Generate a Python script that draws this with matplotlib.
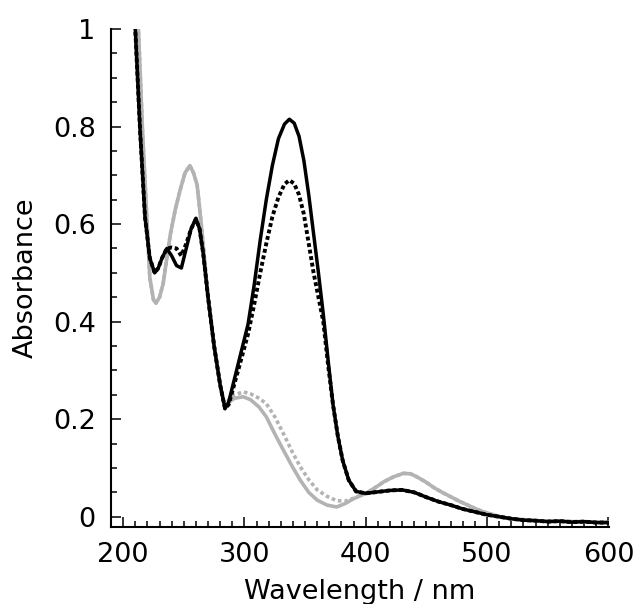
import matplotlib
matplotlib.use("Agg")
import matplotlib.pyplot as plt
from matplotlib.ticker import MultipleLocator, FuncFormatter

# ---- data ----
wl_black = [205, 210, 214, 218, 222, 226, 229, 232, 236, 240, 244, 248, 252, 256, 260, 263, 266,
            270, 275, 280, 284, 287, 292, 297, 303, 308, 313, 318, 323, 328, 333, 337, 341, 345,
            349, 353, 357, 361, 365, 369, 373, 377, 381, 386, 392, 400, 410, 420, 430, 440, 450,
            460, 470, 480, 490, 500, 510, 520, 530, 540, 550, 560, 570, 580, 590, 600]
abs_black_solid = [1.15, 1.0, 0.79, 0.615, 0.53, 0.50, 0.51, 0.53, 0.55, 0.535, 0.515, 0.51, 0.55,
                   0.59, 0.612, 0.59, 0.54, 0.45, 0.35, 0.27, 0.222, 0.235, 0.285, 0.335, 0.395,
                   0.475, 0.567, 0.65, 0.72, 0.775, 0.805, 0.815, 0.807, 0.78, 0.73, 0.66, 0.58,
                   0.50, 0.415, 0.32, 0.23, 0.165, 0.115, 0.075, 0.052, 0.048, 0.051, 0.054, 0.055,
                   0.05, 0.04, 0.031, 0.024, 0.016, 0.01, 0.004, 0.0, -0.004, -0.007, -0.008,
                   -0.01, -0.009, -0.011, -0.01, -0.012, -0.012]
abs_black_dot = [1.15, 1.0, 0.79, 0.615, 0.53, 0.50, 0.51, 0.53, 0.55, 0.552, 0.55, 0.535, 0.56,
                 0.59, 0.61, 0.59, 0.54, 0.45, 0.35, 0.27, 0.222, 0.23, 0.275, 0.32, 0.375,
                 0.435, 0.50, 0.56, 0.615, 0.655, 0.682, 0.69, 0.683, 0.66, 0.62, 0.56, 0.50,
                 0.45, 0.40, 0.31, 0.23, 0.165, 0.115, 0.075, 0.052, 0.048, 0.051, 0.054, 0.055,
                 0.05, 0.04, 0.031, 0.024, 0.016, 0.01, 0.004, 0.0, -0.004, -0.007, -0.008,
                 -0.01, -0.009, -0.011, -0.01, -0.012, -0.012]

wl_gray = [205, 212.6, 216, 219.5, 222, 225, 227, 230, 233, 236, 239, 243, 247, 251, 255, 258, 261,
           264, 267, 270, 275, 280, 284, 287, 292, 299, 305, 312, 318, 325, 332, 339, 346, 353,
           360, 368, 376, 383, 390, 400, 408, 415, 423, 431, 437, 442, 449, 456, 463, 470, 477,
           484, 490, 497, 504, 511, 520, 530, 540, 550, 560, 570, 580, 590, 600]
abs_gray_solid = [1.2, 1.0, 0.79, 0.615, 0.49, 0.445, 0.438, 0.45, 0.478, 0.53, 0.58, 0.63, 0.67,
                  0.705, 0.72, 0.705, 0.68, 0.61, 0.53, 0.45, 0.35, 0.27, 0.222, 0.235, 0.243,
                  0.246, 0.24, 0.225, 0.205, 0.17, 0.137, 0.105, 0.075, 0.05, 0.034, 0.024, 0.02,
                  0.027, 0.037, 0.048, 0.06, 0.072, 0.082, 0.089, 0.088, 0.082, 0.072, 0.06, 0.05,
                  0.041, 0.032, 0.024, 0.017, 0.01, 0.005, 0.0, -0.004, -0.006, -0.008, -0.009,
                  -0.009, -0.01, -0.01, -0.011, -0.011]
abs_gray_dot = [1.2, 1.0, 0.79, 0.615, 0.49, 0.445, 0.438, 0.45, 0.478, 0.53, 0.58, 0.63, 0.67,
                0.705, 0.72, 0.705, 0.68, 0.61, 0.53, 0.45, 0.35, 0.27, 0.222, 0.24, 0.25,
                0.256, 0.252, 0.243, 0.232, 0.205, 0.171, 0.135, 0.1025, 0.076, 0.055, 0.042,
                0.033, 0.032, 0.038, 0.048, 0.06, 0.072, 0.082, 0.089, 0.088, 0.082, 0.072, 0.06,
                0.05, 0.041, 0.032, 0.024, 0.017, 0.01, 0.005, 0.0, -0.004, -0.006, -0.008,
                -0.009, -0.009, -0.01, -0.01, -0.011, -0.011]

x_label = "Wavelength / nm"
y_label = "Absorbance"

# ---- figure ----
plt.rcParams['font.family'] = ['DejaVu Sans']
fig = plt.figure(figsize=(6.38, 6.04), dpi=100)
ax = fig.add_axes([111 / 638, 1 - 527 / 604, (609 - 111) / 638, (527 - 29) / 604])

gray = "#b3b3b3"
ax.plot(wl_gray, abs_gray_dot, color=gray, lw=2.6, ls=(0, (1, 0.8)), dash_capstyle='butt')
ax.plot(wl_gray, abs_gray_solid, color=gray, lw=2.6)
ax.plot(wl_black, abs_black_dot, color="black", lw=2.8, ls=(0, (1, 0.7)), dash_capstyle='butt')
ax.plot(wl_black, abs_black_solid, color="black", lw=2.5)

ax.set_xlim(190, 600.5)
ax.set_ylim(-0.021, 1.0)
ax.xaxis.set_major_locator(MultipleLocator(100))
ax.xaxis.set_minor_locator(MultipleLocator(10))
ax.yaxis.set_major_locator(MultipleLocator(0.2))
ax.yaxis.set_minor_locator(MultipleLocator(0.05))
ax.yaxis.set_major_formatter(FuncFormatter(lambda v, p: "%g" % round(v, 2)))

for s in ("top", "right"):
    ax.spines[s].set_visible(False)
for s in ("left", "bottom"):
    ax.spines[s].set_linewidth(1.5)

ax.tick_params(which="major", direction="in", length=7, width=1.1, labelsize=19.5)
ax.tick_params(which="minor", direction="in", length=4.5, width=1.1)
ax.tick_params(axis="y", which="major", pad=11)
ax.tick_params(axis="x", which="major", pad=11)

ax.set_xlabel(x_label, fontsize=19.5, labelpad=8)
ax.set_ylabel(y_label, fontsize=19.5, labelpad=10)

fig.savefig("out.png", dpi=100)
